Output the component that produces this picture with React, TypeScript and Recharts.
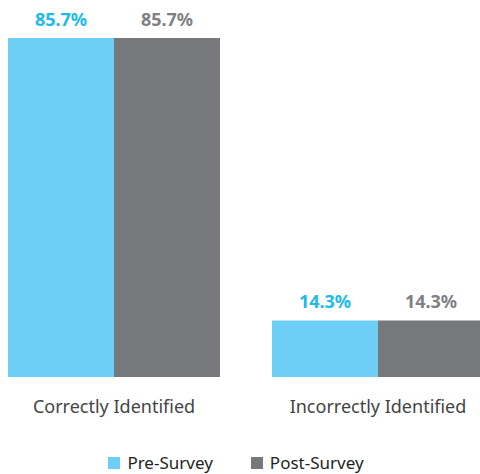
import { BarChart, Bar, XAxis, YAxis, Legend, LabelList } from 'recharts';

const categories = ['Correctly Identified', 'Incorrectly Identified'];
const preSurvey = [85.7, 14.3];
const postSurvey = [85.7, 14.3];

const data = categories.map((name, i) => ({ name, pre: preSurvey[i], post: postSurvey[i] }));

const FONT = '"Noto Sans", sans-serif';
const BLUE = '#6dcff6';
const BLUE_TEXT = '#20b9ec';
const GRAY = '#77787b';
const GRAY_TEXT = '#7f8083';

function LegendContent() {
  const items = [
    { label: 'Pre-Survey', color: BLUE },
    { label: 'Post-Survey', color: GRAY },
  ];
  return (
    <div style={{ display: 'flex', justifyContent: 'center', height: 24, lineHeight: '24px', fontFamily: FONT, fontSize: 17, color: '#231f20' }}>
      {items.map((it) => (
        <span key={it.label} style={{ display: 'inline-flex', alignItems: 'center', margin: '0 19px' }}>
          <span style={{ width: 12, height: 12, background: it.color, display: 'inline-block', marginRight: 7 }} />
          {it.label}
        </span>
      ))}
    </div>
  );
}

export default function App() {
  // fixed frame so the slightly wider chart never makes the page scroll
  return (
    <div style={{ position: 'fixed', top: 0, left: 0, width: 480, height: 474, overflow: 'hidden', background: '#fff' }}>
      <div style={{ position: 'absolute', top: 8, left: 8 }}>
        <BarChart
          width={502}
          height={466}
          data={data}
          margin={{ top: 30, right: 0, left: -26, bottom: 43 }}
          barCategoryGap={26}
          barGap={0}
        >
          <XAxis
            dataKey="name"
            axisLine={false}
            tickLine={false}
            height={30}
            tickMargin={17}
            tick={{ fill: '#444', fontSize: 18, fontFamily: FONT }}
          />
          <YAxis hide domain={[0, 'dataMax']} />
          <Legend
            verticalAlign="bottom"
            content={<LegendContent />}
            wrapperStyle={{ top: 443, left: -12, width: 480 }}
          />
          <Bar dataKey="pre" name="Pre-Survey" fill={BLUE} isAnimationActive={false}>
            <LabelList dataKey="pre" position="top" offset={12} formatter={(v: number) => `${v}%`} style={{ fill: BLUE_TEXT, fontSize: 18, fontWeight: 700, fontFamily: FONT }} />
          </Bar>
          <Bar dataKey="post" name="Post-Survey" fill={GRAY} isAnimationActive={false}>
            <LabelList dataKey="post" position="top" offset={12} formatter={(v: number) => `${v}%`} style={{ fill: GRAY_TEXT, fontSize: 18, fontWeight: 700, fontFamily: FONT }} />
          </Bar>
        </BarChart>
      </div>
    </div>
  );
}
